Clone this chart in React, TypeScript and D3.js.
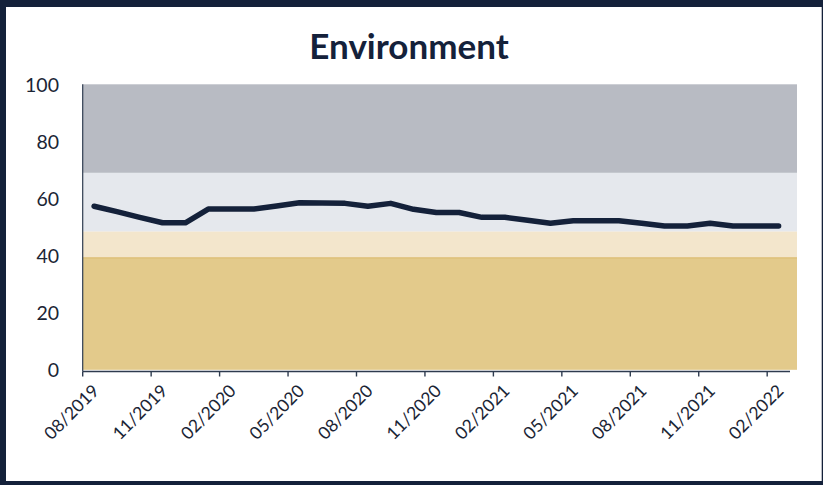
import React from "react";
import * as d3 from "d3";

const months = [
  "08/2019", "09/2019", "10/2019", "11/2019", "12/2019",
  "01/2020", "02/2020", "03/2020", "04/2020", "05/2020", "06/2020", "07/2020",
  "08/2020", "09/2020", "10/2020", "11/2020", "12/2020",
  "01/2021", "02/2021", "03/2021", "04/2021", "05/2021", "06/2021", "07/2021",
  "08/2021", "09/2021", "10/2021", "11/2021", "12/2021",
  "01/2022", "02/2022",
];

const scores = [
  57.3, 55.4, 53.4, 51.5, 51.5, 56.3, 56.3, 56.3, 57.4, 58.5, 58.4,
  58.3, 57.3, 58.3, 56.2, 55.1, 55.1, 53.4, 53.4, 52.4, 51.3, 52.2,
  52.2, 52.2, 51.3, 50.4, 50.4, 51.3, 50.4, 50.4, 50.4,
];

const bandBreaks = [0, 39.2, 48.5, 69, 100];
const bandColors = ["#e3ca8b", "#f3e6cc", "#e5e8ed", "#b8bbc3"];
const yTicks = [0, 20, 40, 60, 80, 100];
const title = "Environment";

const W = 823;
const H = 485;
const NAVY = "#14213a";
const FONT = "Lato, 'Open Sans', sans-serif";

export default function App() {
  const x = d3.scaleBand<string>().domain(months).range([82.7, 790]).paddingInner(0).paddingOuter(0);
  const bw = x.bandwidth();
  const cx = (m: string) => (x(m) as number) + bw / 2;
  const y = d3.scaleLinear().domain([0, 100]).range([369.8, 84.3]);

  const line = d3
    .line<number>()
    .defined((d) => d != null)
    .x((_, i) => cx(months[i]))
    .y((d) => y(d));

  const labeled = months.filter((_, i) => i % 3 === 0);

  return (
    <svg
      width={W}
      height={H}
      style={{ position: "absolute", left: 0, top: 0, display: "block" }}
    >
      <rect x={0} y={0} width={W} height={H} fill={NAVY} />
      <rect x={6} y={7} width={815.7} height={474} fill="#ffffff" />

      <text
        x={409}
        y={58.5}
        textAnchor="middle"
        fontFamily={FONT}
        fontWeight={700}
        fontSize={35}
        fill={NAVY}
      >
        {title}
      </text>

      {bandColors.map((c, i) => (
        <rect
          key={i}
          x={83}
          y={y(bandBreaks[i + 1])}
          width={797 - 83}
          height={y(bandBreaks[i]) - y(bandBreaks[i + 1])}
          fill={c}
        />
      ))}
      <line
        x1={83}
        x2={797}
        y1={y(bandBreaks[1])}
        y2={y(bandBreaks[1])}
        stroke="#dcbd72"
        strokeWidth={1.2}
      />

      {/* y axis */}
      <line x1={82.7} x2={82.7} y1={y(100)} y2={371.5} stroke="#2e3b4f" strokeWidth={1.2} />
      {yTicks.map((t) => (
        <text
          key={t}
          x={59}
          y={y(t)}
          textAnchor="end"
          dominantBaseline="central"
          fontFamily={FONT}
          fontSize={19.5}
          fill="#1b2535"
        >
          {t}
        </text>
      ))}

      {/* x axis */}
      <line x1={82.7} x2={790} y1={371.5} y2={371.5} stroke="#2e3b4f" strokeWidth={1.4} />
      {labeled.map((m) => (
        <line
          key={"t" + m}
          x1={x(m) as number}
          x2={x(m) as number}
          y1={371.5}
          y2={376.5}
          stroke="#2e3b4f"
          strokeWidth={1.4}
        />
      ))}
      {labeled.map((m) => (
        <text
          key={"l" + m}
          transform={`translate(${cx(m) + 6},${392}) rotate(-45)`}
          textAnchor="end"
          fontFamily={FONT}
          fontSize={17.5}
          fill="#1b2535"
        >
          {m}
        </text>
      ))}

      <path
        d={line(scores) || ""}
        fill="none"
        stroke={NAVY}
        strokeWidth={5.5}
        strokeLinejoin="round"
        strokeLinecap="round"
      />
    </svg>
  );
}
